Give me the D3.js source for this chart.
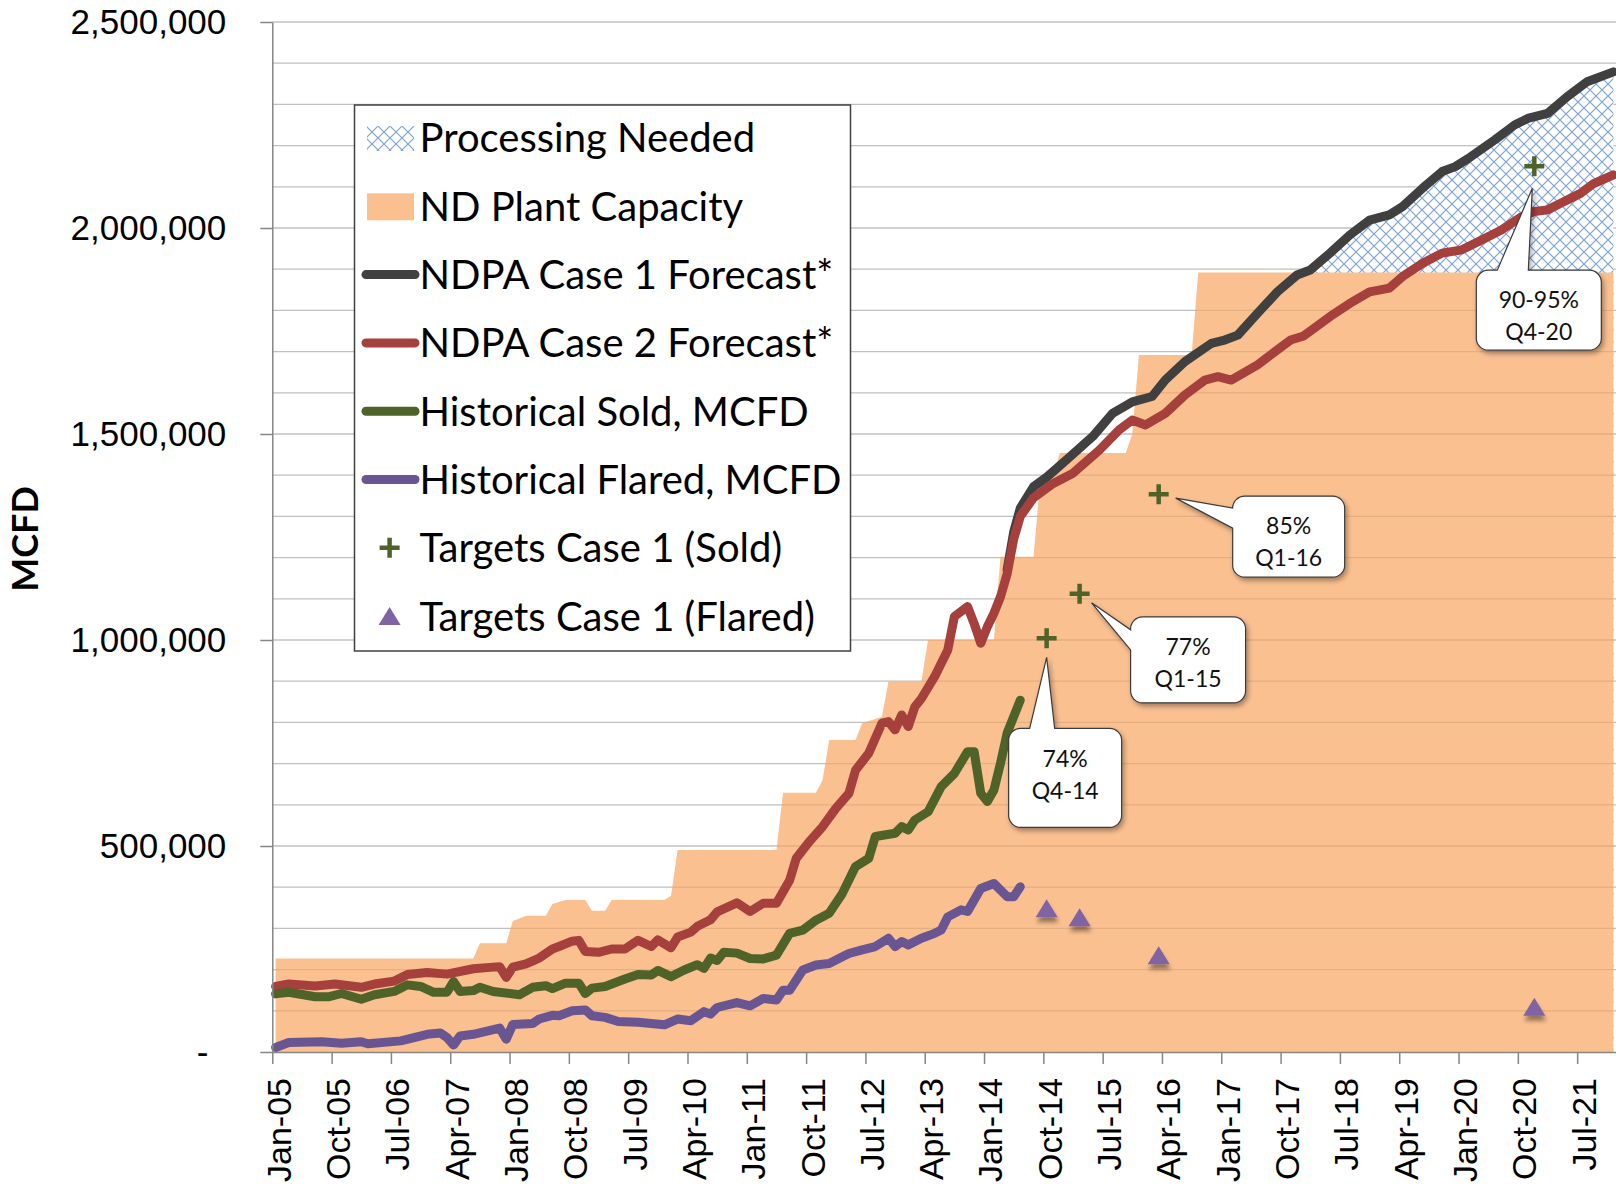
<!DOCTYPE html>
<html>
<head>
<meta charset="utf-8">
<script src="https://cdnjs.cloudflare.com/ajax/libs/d3/7.8.5/d3.min.js"></script>
<style>
    body { margin: 0; background: #fff; }
    svg { display: block; font-family: Lato, "Open Sans", sans-serif; }
</style>
</head>
<body>
<svg id="chart" width="1616" height="1185"></svg>
<script>
    // month index 0 = Jan-05 ... 203 = Dec-21, values in MCFD
    var plantCapacity = [
        [0,227000],[30,227000],[31,264000],[35,264000],[36,318000],[38,331000],[41,331000],
        [42,359000],[44,369000],[47,369000],[48,343000],[50,343000],[51,369000],[59,369000],
        [60,379000],[61,490000],[76,490000],[77,629000],[82,629000],[83,660000],[84,757000],
        [88,757000],[89,798000],[92,814000],[93,899000],[98,899000],[99,1000000],[109,1000000],
        [110,1202000],[115,1202000],[116,1380000],[118,1400000],[119,1454000],[129,1454000],
        [130,1500000],[131,1692000],[139,1692000],[140,1892000],[203,1892000]
    ];
    var case1Forecast = [
        [111,1170000],[112,1262000],[113,1320000],[115,1372000],[117,1395000],[120,1437000],
        [124,1494000],[127,1550000],[130,1578000],[133,1591000],[135,1631000],[138,1676000],
        [142,1720000],[144,1728000],[146,1740000],[149,1793000],[152,1845000],[155,1886000],
        [157,1898000],[160,1939000],[163,1983000],[166,2019000],[169,2032000],[171,2052000],
        [174,2096000],[177,2137000],[179,2149000],[181,2169000],[185,2214000],[188,2250000],
        [190,2266000],[193,2278000],[196,2319000],[199,2355000],[203,2379000]
    ];
    var case2Forecast = [
        [0,159000],[2,165000],[6,160000],[9,165000],[13,157000],[15,165000],[18,172000],
        [20,188000],[23,193000],[26,189000],[30,202000],[33,206000],[34,207000],[35,181000],
        [36,206000],[38,214000],[40,228000],[42,250000],[43,256000],[45,269000],[46,271000],
        [47,244000],[49,242000],[51,250000],[53,250000],[55,271000],[57,256000],[58,272000],
        [60,253000],[61,279000],[63,291000],[64,305000],[66,321000],[67,340000],[70,362000],
        [72,341000],[74,361000],[76,361000],[78,417000],[79,470000],[81,511000],[83,547000],
        [85,591000],[87,628000],[88,684000],[90,725000],[92,798000],[93,802000],[94,782000],
        [95,818000],[96,790000],[97,838000],[98,858000],[100,911000],[102,976000],[103,1057000],
        [105,1081000],[106,1040000],[107,992000],[108,1032000],[109,1065000],[110,1105000],
        [111,1160000],[112,1245000],[113,1300000],[115,1345000],[118,1380000],[121,1405000],
        [125,1461000],[128,1510000],[130,1534000],[132,1522000],[135,1550000],[138,1595000],
        [141,1631000],[143,1639000],[145,1631000],[149,1668000],[152,1704000],[154,1728000],
        [156,1738000],[160,1785000],[163,1817000],[166,1845000],[169,1854000],[171,1882000],
        [174,1914000],[177,1939000],[180,1947000],[183,1971000],[186,1995000],[189,2027000],
        [191,2040000],[193,2044000],[195,2060000],[198,2084000],[200,2108000],[203,2129000]
    ];
    var historicalSold = [
        [0,141000],[2,145000],[6,134000],[8,134000],[10,142000],[13,128000],[15,139000],
        [18,147000],[20,163000],[22,159000],[24,145000],[26,145000],[27,171000],[28,147000],
        [30,149000],[31,157000],[33,147000],[37,139000],[39,157000],[41,161000],[42,154000],
        [44,167000],[46,167000],[47,142000],[48,155000],[50,159000],[53,177000],[55,188000],
        [57,187000],[58,198000],[60,183000],[62,199000],[64,212000],[65,203000],[66,228000],
        [67,222000],[68,242000],[70,240000],[72,227000],[74,226000],[76,235000],[78,288000],
        [80,296000],[82,320000],[84,337000],[86,385000],[88,450000],[90,470000],[91,523000],
        [94,531000],[95,547000],[96,539000],[97,563000],[99,583000],[101,644000],[103,676000],
        [105,729000],[106,729000],[107,628000],[108,608000],[109,636000],[110,701000],
        [111,774000],[113,854000]
    ];
    var historicalFlared = [
        [0,11000],[2,23000],[7,25000],[10,21000],[13,25000],[14,20000],[19,27000],[21,35000],
        [23,43000],[25,46000],[26,35000],[27,17000],[28,39000],[30,43000],[34,58000],[35,31000],
        [36,67000],[39,69000],[40,80000],[42,89000],[43,88000],[45,100000],[47,102000],
        [48,88000],[50,84000],[52,74000],[55,72000],[57,69000],[59,66000],[61,80000],[63,76000],
        [65,98000],[66,92000],[67,108000],[70,120000],[72,112000],[74,130000],[76,126000],
        [77,150000],[78,150000],[80,199000],[82,211000],[84,215000],[86,231000],[87,239000],
        [89,248000],[91,256000],[93,276000],[94,256000],[95,268000],[96,260000],[98,276000],
        [100,288000],[101,296000],[102,328000],[104,345000],[105,341000],[107,397000],
        [109,409000],[111,377000],[112,377000],[113,401000]
    ];
    var targetsSold = [[117,1004000],[122,1112000],[134,1354000],[191,2150000]];
    var targetsFlared = [[117,349000],[122,327000],[134,235000],[191,110000]];
    var calloutText = [["74%","Q4-14"],["77%","Q1-15"],["85%","Q1-16"],["90-95%","Q4-20"]];

    var xTickLabels = ["Jan-05","Oct-05","Jul-06","Apr-07","Jan-08","Oct-08","Jul-09","Apr-10",
        "Jan-11","Oct-11","Jul-12","Apr-13","Jan-14","Oct-14","Jul-15","Apr-16","Jan-17",
        "Oct-17","Jul-18","Apr-19","Jan-20","Oct-20","Jul-21"];
    var yTickValues = [0, 500000, 1000000, 1500000, 2000000, 2500000];
    var legendLabels = ["Processing Needed","ND Plant Capacity","NDPA Case 1 Forecast*",
        "NDPA Case 2 Forecast*","Historical Sold, MCFD","Historical Flared, MCFD",
        "Targets Case 1 (Sold)","Targets Case 1 (Flared)"];

    var orange = "#FAC090", gridTan = "#E5AE80";
    var lineColors = ["#404040", "#A6403D", "#4F6228", "#6A5593"];

    var svg = d3.select("#chart");
    var x = d3.scaleLinear().domain([0, 204]).range([272.3, 1616.7]);
    var y = d3.scaleLinear().domain([0, 2500000]).range([1052, 22]);
    var px = function(d) { return x(d[0] + 0.5); };
    var py = function(d) { return y(d[1]); };

    var defs = svg.append("defs");
    var pat = defs.append("pattern").attr("id", "hatch").attr("patternUnits", "userSpaceOnUse")
        .attr("width", 12).attr("height", 12);
    pat.append("rect").attr("width", 12).attr("height", 12).attr("fill", "#fff");
    pat.append("path").attr("d", "M-2,-2L14,14M14,-2L-2,14")
        .attr("stroke", "#7BA3D7").attr("stroke-width", 1.2);
    defs.append("filter").attr("id", "shadow").attr("x", "-30%").attr("y", "-30%")
        .attr("width", "170%").attr("height", "170%")
        .append("feDropShadow").attr("dx", 2).attr("dy", 3).attr("stdDeviation", 2.5)
        .attr("flood-color", "#000").attr("flood-opacity", 0.35);
    defs.append("filter").attr("id", "markShadow").attr("x", "-50%").attr("y", "-50%")
        .attr("width", "200%").attr("height", "220%")
        .append("feDropShadow").attr("dx", 1).attr("dy", 5).attr("stdDeviation", 2)
        .attr("flood-color", "#000").attr("flood-opacity", 0.4);

    var capArea = d3.area().x(px).y0(y(0)).y1(py);
    defs.append("clipPath").attr("id", "capClip").append("path").attr("d", capArea(plantCapacity));

    var gridValues = d3.range(100000, 2500001, 100000);
    function grid(color) {
        var g = svg.append("g");
        g.selectAll("line").data(gridValues).join("line")
            .attr("x1", x(0)).attr("x2", x(204))
            .attr("y1", function(d) { return y(d); }).attr("y2", function(d) { return y(d); })
            .attr("stroke", color).attr("stroke-width", 1.3);
        return g;
    }
    grid("#C0C0C0");

    // processing needed: hatch under case 1, capacity area covers the lower part
    var hatchData = case1Forecast.filter(function(d) { return d[0] >= 138; });
    svg.append("path").attr("d", d3.area().x(px).y0(y(0)).y1(py)(hatchData))
        .attr("fill", "url(#hatch)");
    svg.append("path").attr("d", capArea(plantCapacity)).attr("fill", orange);
    grid(gridTan).attr("clip-path", "url(#capClip)");

    var line = d3.line().x(px).y(py);
    [case1Forecast, case2Forecast, historicalSold, historicalFlared].forEach(function(s, i) {
        svg.append("path").attr("d", line(s)).attr("fill", "none")
            .attr("stroke", lineColors[i]).attr("stroke-width", 9)
            .attr("stroke-linejoin", "round").attr("stroke-linecap", "round");
    });

    // axes
    var yAxis = svg.append("g").attr("transform", "translate(" + x(0) + ",0)")
        .call(d3.axisLeft(y).tickValues(yTickValues).tickSize(12).tickSizeOuter(0).tickPadding(34)
            .tickFormat(function(d) { return d === 0 ? "-" : d3.format(",")(d); }));
    var xAxis = svg.append("g").attr("transform", "translate(0," + y(0) + ")")
        .call(d3.axisBottom(x).tickValues(d3.range(0, 199, 9)).tickSize(12).tickSizeOuter(0)
            .tickFormat(function(d, i) { return xTickLabels[i]; }));
    [yAxis, xAxis].forEach(function(a) {
        a.selectAll("path, line").attr("stroke", "#868686").attr("stroke-width", 1.5);
        a.selectAll("text").attr("fill", "#000").style("font-family", null);
    });
    yAxis.selectAll("text").style("font-size", "35px");
    xAxis.selectAll("text").style("font-size", "34px");
    yAxis.selectAll(".tick").filter(function(d) { return d === 0; }).select("text").attr("dx", -18);
    xAxis.selectAll("text").attr("transform", "rotate(-90)").attr("text-anchor", "end")
        .attr("x", -26).attr("y", 6).attr("dy", "0.35em");

    svg.append("text").attr("transform", "translate(25,539) rotate(-90)")
        .attr("text-anchor", "middle").attr("dy", "0.36em")
        .style("font-weight", "bold").style("font-size", "36px").text("MCFD");

    // target markers
    var plusPath = "M-10,0H10M0,-10V10";
    var triPath = "M0,-9L11,9L-11,9Z";
    svg.append("g").selectAll("path").data(targetsFlared).join("path")
        .attr("d", triPath).attr("fill", "#8064A2").attr("filter", "url(#markShadow)")
        .attr("transform", function(d) { return "translate(" + px(d) + "," + py(d) + ")"; });
    svg.append("g").selectAll("path").data(targetsSold).join("path")
        .attr("d", plusPath).attr("stroke", "#4F6228").attr("stroke-width", 4.5)
        .attr("transform", function(d) { return "translate(" + px(d) + "," + py(d) + ")"; });

    // callouts: box offset from the sold target, pointer base on one edge, tip offset
    var calloutLayout = [
        {box: [-38, 90, 113, 99], edge: "top", base: [21, 46], tip: [0, 19]},
        {box: [51, 23, 115, 86], edge: "left", base: [13, 33], tip: [12, 9]},
        {box: [74, 2, 112, 81], edge: "left", base: [12, 32], tip: [17, 4]},
        {box: [-58, 104, 125, 80], edge: "top", base: [21, 52], tip: [-2, 22]}
    ];
    function calloutPath(bx, by, w, h, r, edge, a, b, tx, ty) {
        var p = d3.path();
        p.moveTo(bx + r, by);
        if (edge === "top") { p.lineTo(bx + a, by); p.lineTo(tx, ty); p.lineTo(bx + b, by); }
        p.lineTo(bx + w - r, by);
        p.arcTo(bx + w, by, bx + w, by + r, r);
        p.lineTo(bx + w, by + h - r);
        p.arcTo(bx + w, by + h, bx + w - r, by + h, r);
        p.lineTo(bx + r, by + h);
        p.arcTo(bx, by + h, bx, by + h - r, r);
        if (edge === "left") { p.lineTo(bx, by + b); p.lineTo(tx, ty); p.lineTo(bx, by + a); }
        p.lineTo(bx, by + r);
        p.arcTo(bx, by, bx + r, by, r);
        p.closePath();
        return p.toString();
    }
    calloutLayout.forEach(function(c, i) {
        var t = targetsSold[i];
        var cx = px(t), cy = py(t);
        var bx = cx + c.box[0], by = cy + c.box[1], w = c.box[2], h = c.box[3];
        var g = svg.append("g");
        g.append("path")
            .attr("d", calloutPath(bx, by, w, h, 12, c.edge, c.base[0], c.base[1], cx + c.tip[0], cy + c.tip[1]))
            .attr("fill", "#fff").attr("stroke", "#3A3A3A").attr("stroke-width", 1.2)
            .attr("filter", "url(#shadow)");
        calloutText[i].forEach(function(s, k) {
            g.append("text").attr("x", bx + w / 2).attr("y", by + 30 + k * 32).attr("dy", "0.36em")
                .attr("text-anchor", "middle").style("font-size", "23px").attr("fill", "#111").text(s);
        });
    });

    // legend
    var lg = svg.append("g");
    lg.append("rect").attr("x", 354.5).attr("y", 105).attr("width", 496).attr("height", 546)
        .attr("fill", "#fff").attr("stroke", "#404040").attr("stroke-width", 1.5);
    legendLabels.forEach(function(label, i) {
        var cy = 138 + i * 68.3;
        if (i === 0) {
            lg.append("rect").attr("x", 367).attr("y", cy - 12).attr("width", 47).attr("height", 25)
                .attr("fill", "url(#hatch)");
        } else if (i === 1) {
            lg.append("rect").attr("x", 367).attr("y", cy - 13).attr("width", 47).attr("height", 27)
                .attr("fill", orange);
        } else if (i < 6) {
            lg.append("line").attr("x1", 366).attr("x2", 415).attr("y1", cy).attr("y2", cy)
                .attr("stroke", lineColors[i - 2]).attr("stroke-width", 9).attr("stroke-linecap", "round");
        } else if (i === 6) {
            lg.append("path").attr("d", plusPath).attr("stroke", "#4F6228").attr("stroke-width", 4.5)
                .attr("transform", "translate(389.6," + cy + ")");
        } else {
            lg.append("path").attr("d", triPath).attr("fill", "#8064A2")
                .attr("transform", "translate(389.6," + cy + ")");
        }
        lg.append("text").attr("x", 419.5).attr("y", cy).attr("dy", "0.36em")
            .style("font-size", "40px").attr("fill", "#000").text(label);
    });
</script>
</body>
</html>
